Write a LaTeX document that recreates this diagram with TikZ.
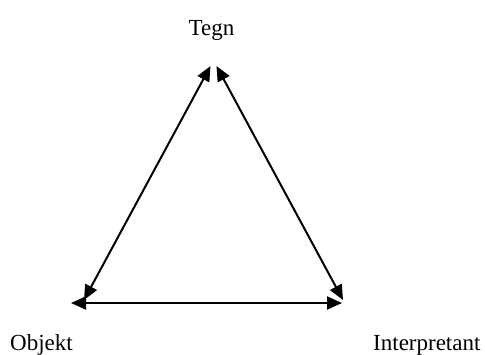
\documentclass[tikz,border=0pt]{standalone}
\usepackage{fontspec}
\setmainfont{Liberation Serif}
\usetikzlibrary{arrows.meta}
\begin{document}
\begin{tikzpicture}[x=1pt,y=-1pt,
  lbl/.style={inner sep=0pt,font=\fontsize{23}{27}\selectfont},
  link/.style={line width=2pt,{Triangle[length=15pt,width=13pt]}-{Triangle[length=15pt,width=13pt]}}]
\useasboundingbox (0,0) rectangle (485,354);
\node[lbl,anchor=base] (tegn) at (211.5,35) {Tegn};
\node[lbl,anchor=base west] (obj) at (10,350) {Objekt};
\node[lbl,anchor=base west] (int) at (373,350) {Interpretant};
\coordinate (tl) at (210.5,66);
\coordinate (tr) at (216.5,66);
\coordinate (ld) at (84,300);
\coordinate (rd) at (343,300);
\coordinate (lh) at (71,303);
\coordinate (rh) at (342,303);
\draw[link] (tl) -- (ld);
\draw[link] (tr) -- (rd);
\draw[link] (lh) -- (rh);
\end{tikzpicture}
\end{document}
